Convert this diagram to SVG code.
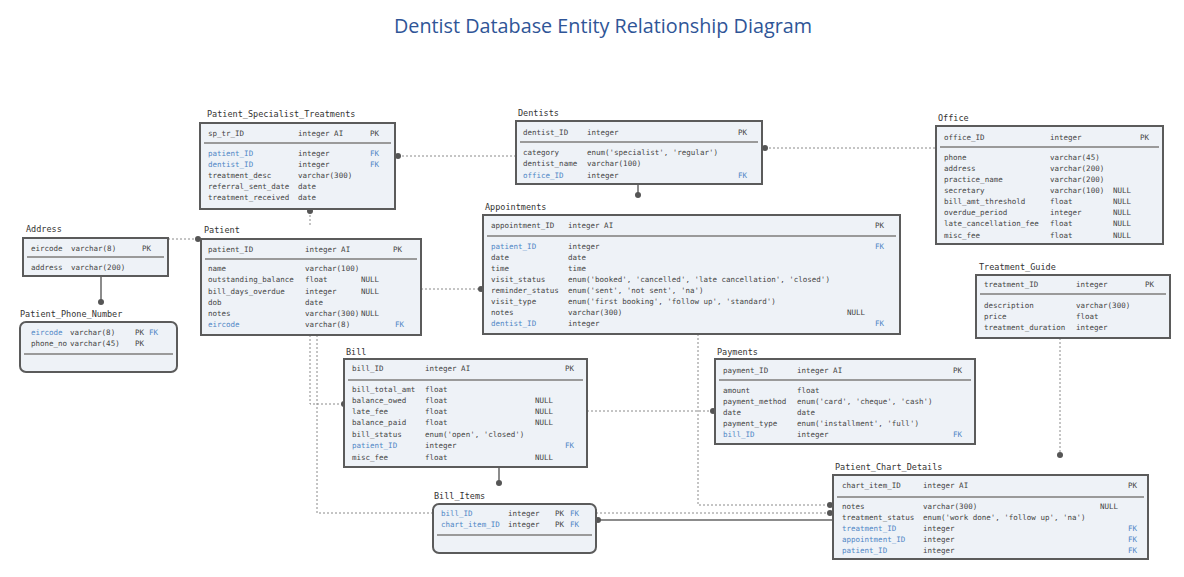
<svg xmlns="http://www.w3.org/2000/svg" width="1184" height="577" viewBox="0 0 1184 577">
<style>
.bg{fill:#ffffff}
.title{font-family:"Open Sans","Liberation Sans",sans-serif;font-size:19.5px;fill:#2f5597}
.box{fill:#eef2f7;stroke:#5b5b5b;stroke-width:2}
.div{stroke:#9a9a9a;stroke-width:2}
.lbl{font-family:"DejaVu Sans Mono","Liberation Mono",monospace;font-size:8.5px;fill:#333}
.t{font-family:"DejaVu Sans Mono","Liberation Mono",monospace;font-size:7.5px;fill:#444}
.fk{fill:#4f86c6}
.dash{fill:none;stroke:#8a8a8a;stroke-width:1;stroke-dasharray:2 2}
.solid{fill:none;stroke:#666;stroke-width:1.5}
.dot{fill:#555}
</style>
<rect class="bg" x="0" y="0" width="1184" height="577"/>
<text class="title" x="603" y="33" text-anchor="middle" textLength="418" lengthAdjust="spacingAndGlyphs">Dentist Database Entity Relationship Diagram</text>

<g id="connectors">
<line class="dash" x1="398" y1="156" x2="516" y2="156"/><circle class="dot" cx="398" cy="156" r="3"/>
<line class="dash" x1="765" y1="148" x2="936" y2="148"/><circle class="dot" cx="765" cy="148" r="3"/>
<line class="solid" x1="638" y1="184" x2="638" y2="195"/><circle class="dot" cx="638" cy="195" r="3"/>
<line class="dash" x1="310" y1="211" x2="310" y2="226"/><circle class="dot" cx="310" cy="211" r="3"/>
<line class="dash" x1="168" y1="239" x2="198" y2="239"/><circle class="dot" cx="198" cy="239" r="3"/>
<line class="solid" x1="101" y1="276" x2="101" y2="302"/><circle class="dot" cx="101" cy="302" r="3"/>
<line class="dash" x1="421" y1="289" x2="481" y2="289"/><circle class="dot" cx="481" cy="289" r="3"/>
<polyline class="dash" points="310,335 310,404 344,404"/><circle class="dot" cx="344" cy="404" r="3"/>
<polyline class="dash" points="317,335 317,513 433,513"/>
<line class="dash" x1="587" y1="411" x2="713" y2="411"/><circle class="dot" cx="713" cy="411" r="3"/>
<line class="solid" x1="499" y1="467" x2="499" y2="483"/><circle class="dot" cx="499" cy="483" r="3"/>
<line class="dash" x1="596" y1="513" x2="830" y2="513"/><circle class="dot" cx="830" cy="513" r="3"/>
<line class="solid" x1="598" y1="520" x2="833" y2="520"/><circle class="dot" cx="598" cy="520" r="3"/>
<polyline class="dash" points="698,334 698,505 830,505"/><circle class="dot" cx="830" cy="505" r="3"/>
<line class="dash" x1="1060" y1="338" x2="1060" y2="455"/><circle class="dot" cx="1060" cy="455" r="3"/>
</g>

<g id="Patient_Specialist_Treatments">
<text class="lbl" x="207" y="117">Patient_Specialist_Treatments</text>
<rect class="box" x="200" y="123" width="195" height="86"/>
<line class="div" x1="204" y1="143" x2="391" y2="143"/>
<text class="t" x="208" y="136">sp_tr_ID</text><text class="t" x="298" y="136">integer AI</text><text class="t" x="370" y="136">PK</text>
<text class="t fk" x="208" y="156">patient_ID</text><text class="t" x="298" y="156">integer</text><text class="t fk" x="370" y="156">FK</text>
<text class="t fk" x="208" y="167">dentist_ID</text><text class="t" x="298" y="167">integer</text><text class="t fk" x="370" y="167">FK</text>
<text class="t" x="208" y="178">treatment_desc</text><text class="t" x="298" y="178">varchar(300)</text>
<text class="t" x="208" y="189">referral_sent_date</text><text class="t" x="298" y="189">date</text>
<text class="t" x="208" y="200">treatment_received</text><text class="t" x="298" y="200">date</text>
</g>

<g id="Dentists">
<text class="lbl" x="518" y="116">Dentists</text>
<rect class="box" x="516" y="121" width="246" height="63"/>
<line class="div" x1="520" y1="142" x2="758" y2="142"/>
<text class="t" x="523" y="135">dentist_ID</text><text class="t" x="587" y="135">integer</text><text class="t" x="738" y="135">PK</text>
<text class="t" x="523" y="155">category</text><text class="t" x="587" y="155">enum('specialist', 'regular')</text>
<text class="t" x="523" y="166">dentist_name</text><text class="t" x="587" y="166">varchar(100)</text>
<text class="t fk" x="523" y="178">office_ID</text><text class="t" x="587" y="178">integer</text><text class="t fk" x="738" y="178">FK</text>
</g>

<g id="Office">
<text class="lbl" x="938" y="121">Office</text>
<rect class="box" x="936" y="126" width="227" height="118"/>
<line class="div" x1="940" y1="147" x2="1159" y2="147"/>
<text class="t" x="944" y="140">office_ID</text><text class="t" x="1050" y="140">integer</text><text class="t" x="1140" y="140">PK</text>
<text class="t" x="944" y="160">phone</text><text class="t" x="1050" y="160">varchar(45)</text>
<text class="t" x="944" y="171">address</text><text class="t" x="1050" y="171">varchar(200)</text>
<text class="t" x="944" y="182">practice_name</text><text class="t" x="1050" y="182">varchar(200)</text>
<text class="t" x="944" y="193">secretary</text><text class="t" x="1050" y="193">varchar(100)</text><text class="t" x="1113" y="193">NULL</text>
<text class="t" x="944" y="204">bill_amt_threshold</text><text class="t" x="1050" y="204">float</text><text class="t" x="1113" y="204">NULL</text>
<text class="t" x="944" y="215">overdue_period</text><text class="t" x="1050" y="215">integer</text><text class="t" x="1113" y="215">NULL</text>
<text class="t" x="944" y="226">late_cancellation_fee</text><text class="t" x="1050" y="226">float</text><text class="t" x="1113" y="226">NULL</text>
<text class="t" x="944" y="238">misc_fee</text><text class="t" x="1050" y="238">float</text><text class="t" x="1113" y="238">NULL</text>
</g>

<g id="Address">
<text class="lbl" x="26" y="232">Address</text>
<rect class="box" x="23" y="238" width="145" height="38"/>
<line class="div" x1="27" y1="257" x2="164" y2="257"/>
<text class="t" x="31" y="251">eircode</text><text class="t" x="71" y="251">varchar(8)</text><text class="t" x="142" y="251">PK</text>
<text class="t" x="31" y="270">address</text><text class="t" x="71" y="270">varchar(200)</text>
</g>

<g id="Patient_Phone_Number">
<text class="lbl" x="20" y="317">Patient_Phone_Number</text>
<rect class="box" x="20" y="322" width="157" height="50" rx="6"/>
<line class="div" x1="24" y1="354" x2="173" y2="354"/>
<text class="t fk" x="31" y="335">eircode</text><text class="t" x="70" y="335">varchar(8)</text><text class="t" x="135" y="335">PK</text><text class="t fk" x="149" y="335">FK</text>
<text class="t" x="31" y="346">phone_no</text><text class="t" x="70" y="346">varchar(45)</text><text class="t" x="135" y="346">PK</text>
</g>

<g id="Patient">
<text class="lbl" x="204" y="233">Patient</text>
<rect class="box" x="201" y="239" width="220" height="96"/>
<line class="div" x1="205" y1="259" x2="417" y2="259"/>
<text class="t" x="208" y="252">patient_ID</text><text class="t" x="305" y="252">integer AI</text><text class="t" x="393" y="252">PK</text>
<text class="t" x="208" y="271">name</text><text class="t" x="305" y="271">varchar(100)</text>
<text class="t" x="208" y="282">outstanding_balance</text><text class="t" x="305" y="282">float</text><text class="t" x="361" y="282">NULL</text>
<text class="t" x="208" y="294">bill_days_overdue</text><text class="t" x="305" y="294">integer</text><text class="t" x="361" y="294">NULL</text>
<text class="t" x="208" y="305">dob</text><text class="t" x="305" y="305">date</text>
<text class="t" x="208" y="316">notes</text><text class="t" x="305" y="316">varchar(300)</text><text class="t" x="361" y="316">NULL</text>
<text class="t fk" x="208" y="327">eircode</text><text class="t" x="305" y="327">varchar(8)</text><text class="t fk" x="395" y="327">FK</text>
</g>

<g id="Appointments">
<text class="lbl" x="485" y="210">Appointments</text>
<rect class="box" x="483" y="215" width="417" height="119"/>
<line class="div" x1="487" y1="236" x2="896" y2="236"/>
<text class="t" x="491" y="228">appointment_ID</text><text class="t" x="568" y="228">integer AI</text><text class="t" x="875" y="228">PK</text>
<text class="t fk" x="491" y="249">patient_ID</text><text class="t" x="568" y="249">integer</text><text class="t fk" x="875" y="249">FK</text>
<text class="t" x="491" y="260">date</text><text class="t" x="568" y="260">date</text>
<text class="t" x="491" y="271">time</text><text class="t" x="568" y="271">time</text>
<text class="t" x="491" y="282">visit_status</text><text class="t" x="568" y="282">enum('booked', 'cancelled', 'late cancellation', 'closed')</text>
<text class="t" x="491" y="293">reminder_status</text><text class="t" x="568" y="293">enum('sent', 'not sent', 'na')</text>
<text class="t" x="491" y="304">visit_type</text><text class="t" x="568" y="304">enum('first booking', 'follow up', 'standard')</text>
<text class="t" x="491" y="315">notes</text><text class="t" x="568" y="315">varchar(300)</text><text class="t" x="847" y="315">NULL</text>
<text class="t fk" x="491" y="326">dentist_ID</text><text class="t" x="568" y="326">integer</text><text class="t fk" x="875" y="326">FK</text>
</g>

<g id="Treatment_Guide">
<text class="lbl" x="979" y="270">Treatment_Guide</text>
<rect class="box" x="976" y="275" width="194" height="63"/>
<line class="div" x1="980" y1="294" x2="1166" y2="294"/>
<text class="t" x="984" y="287">treatment_ID</text><text class="t" x="1076" y="287">integer</text><text class="t" x="1145" y="287">PK</text>
<text class="t" x="984" y="308">description</text><text class="t" x="1076" y="308">varchar(300)</text>
<text class="t" x="984" y="319">price</text><text class="t" x="1076" y="319">float</text>
<text class="t" x="984" y="330">treatment_duration</text><text class="t" x="1076" y="330">integer</text>
</g>

<g id="Bill">
<text class="lbl" x="346" y="355">Bill</text>
<rect class="box" x="344" y="359" width="243" height="108"/>
<line class="div" x1="348" y1="380" x2="583" y2="380"/>
<text class="t" x="352" y="371">bill_ID</text><text class="t" x="425" y="371">integer AI</text><text class="t" x="565" y="371">PK</text>
<text class="t" x="352" y="392">bill_total_amt</text><text class="t" x="425" y="392">float</text>
<text class="t" x="352" y="403">balance_owed</text><text class="t" x="425" y="403">float</text><text class="t" x="535" y="403">NULL</text>
<text class="t" x="352" y="414">late_fee</text><text class="t" x="425" y="414">float</text><text class="t" x="535" y="414">NULL</text>
<text class="t" x="352" y="425">balance_paid</text><text class="t" x="425" y="425">float</text><text class="t" x="535" y="425">NULL</text>
<text class="t" x="352" y="437">bill_status</text><text class="t" x="425" y="437">enum('open', 'closed')</text>
<text class="t fk" x="352" y="448">patient_ID</text><text class="t" x="425" y="448">integer</text><text class="t fk" x="565" y="448">FK</text>
<text class="t" x="352" y="460">misc_fee</text><text class="t" x="425" y="460">float</text><text class="t" x="535" y="460">NULL</text>
</g>

<g id="Payments">
<text class="lbl" x="717" y="355">Payments</text>
<rect class="box" x="715" y="359" width="260" height="85"/>
<line class="div" x1="719" y1="380" x2="971" y2="380"/>
<text class="t" x="723" y="373">payment_ID</text><text class="t" x="797" y="373">integer AI</text><text class="t" x="953" y="373">PK</text>
<text class="t" x="723" y="393">amount</text><text class="t" x="797" y="393">float</text>
<text class="t" x="723" y="404">payment_method</text><text class="t" x="797" y="404">enum('card', 'cheque', 'cash')</text>
<text class="t" x="723" y="415">date</text><text class="t" x="797" y="415">date</text>
<text class="t" x="723" y="426">payment_type</text><text class="t" x="797" y="426">enum('installment', 'full')</text>
<text class="t fk" x="723" y="437">bill_ID</text><text class="t" x="797" y="437">integer</text><text class="t fk" x="953" y="437">FK</text>
</g>

<g id="Bill_Items">
<text class="lbl" x="434" y="499">Bill_Items</text>
<rect class="box" x="433" y="504" width="163" height="49" rx="6"/>
<line class="div" x1="437" y1="535" x2="592" y2="535"/>
<text class="t fk" x="441" y="516">bill_ID</text><text class="t" x="508" y="516">integer</text><text class="t" x="555" y="516">PK</text><text class="t fk" x="570" y="516">FK</text>
<text class="t fk" x="441" y="527">chart_item_ID</text><text class="t" x="508" y="527">integer</text><text class="t" x="555" y="527">PK</text><text class="t fk" x="570" y="527">FK</text>
</g>

<g id="Patient_Chart_Details">
<text class="lbl" x="835" y="470">Patient_Chart_Details</text>
<rect class="box" x="833" y="475" width="315" height="84"/>
<line class="div" x1="837" y1="497" x2="1144" y2="497"/>
<text class="t" x="842" y="488">chart_item_ID</text><text class="t" x="923" y="488">integer AI</text><text class="t" x="1128" y="488">PK</text>
<text class="t" x="842" y="509">notes</text><text class="t" x="923" y="509">varchar(300)</text><text class="t" x="1100" y="509">NULL</text>
<text class="t" x="842" y="520">treatment_status</text><text class="t" x="923" y="520">enum('work done', 'follow up', 'na')</text>
<text class="t fk" x="842" y="531">treatment_ID</text><text class="t" x="923" y="531">integer</text><text class="t fk" x="1128" y="531">FK</text>
<text class="t fk" x="842" y="542">appointment_ID</text><text class="t" x="923" y="542">integer</text><text class="t fk" x="1128" y="542">FK</text>
<text class="t fk" x="842" y="553">patient_ID</text><text class="t" x="923" y="553">integer</text><text class="t fk" x="1128" y="553">FK</text>
</g>
</svg>
